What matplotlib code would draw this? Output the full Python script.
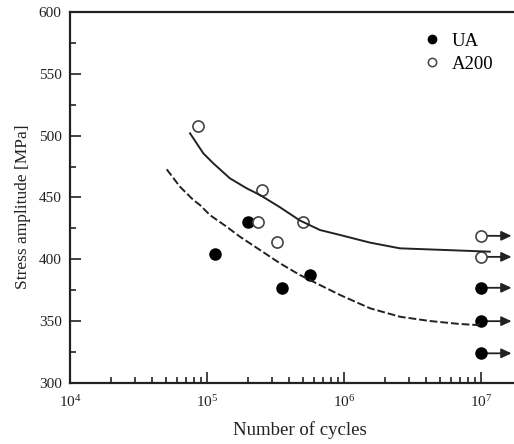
import numpy as np
import matplotlib
matplotlib.use("Agg")
import matplotlib.pyplot as plt
from matplotlib.ticker import LogLocator, FixedLocator, MultipleLocator, FuncFormatter

plt.rcParams['font.family'] = ['Liberation Serif', 'DejaVu Serif']
plt.rcParams['mathtext.fontset'] = 'custom'
plt.rcParams['mathtext.rm'] = 'Liberation Serif'
plt.rcParams['mathtext.it'] = 'Liberation Serif:italic'

# Fatigue test results (cycles to failure, stress amplitude in MPa)
ua_cycles = [1.14e5, 2.0e5, 3.5e5, 5.65e5]
ua_stress = [404, 430, 377, 387]
a200_cycles = [8.55e4, 2.35e5, 2.54e5, 3.23e5, 5.0e5]
a200_stress = [508, 430, 456, 414, 430]

# Run-outs (no failure at 10^7 cycles)
runout_cycles = 1.0e7
ua_runout_stress = [377, 350, 324]
a200_runout_stress = [419, 402]

# Fitted S-N curves
a200_fit_cycles = [7.52e4, 9.4e4, 1.11e5, 1.47e5, 1.95e5, 2.44e5, 3.41e5, 4.77e5,
                   6.68e5, 9.35e5, 1.55e6, 2.56e6, 5.31e6, 1.16e7]
a200_fit_stress = [501.9, 485.7, 477.7, 465.5, 457.4, 452.0, 442.1, 431.4,
                   423.7, 419.7, 413.5, 408.9, 407.6, 406.2]
ua_fit_cycles = [5.08e4, 6.35e4, 7.95e4, 8.89e4, 1.05e5, 1.39e5, 1.74e5, 2.44e5,
                 3.41e5, 4.77e5, 6.68e5, 9.35e5, 1.55e6, 2.56e6, 4.25e6, 7.03e6,
                 9.3e6, 1.02e7]
ua_fit_stress = [472.8, 458.7, 448.0, 443.9, 435.8, 426.4, 418.3, 407.5,
                 396.8, 387.3, 379.2, 371.2, 360.4, 353.6, 350.1, 347.7,
                 346.9, 348.0]

fig = plt.figure(figsize=(5.14, 4.44), dpi=100)
ax = fig.add_axes([70 / 514, 61 / 444, 460 / 514, 371 / 444])

ax.set_xscale('log')
ax.set_xlim(1e4, 10 ** (4 + 460 / 137))
ax.set_ylim(300, 600)

ink = '#222222'

ax.plot(a200_fit_cycles, a200_fit_stress, color=ink, lw=1.4, zorder=4)
ax.plot(ua_fit_cycles, ua_fit_stress, color=ink, lw=1.4, ls=(0, (4, 1.5)), zorder=4)

ax.plot(ua_cycles + [runout_cycles] * len(ua_runout_stress),
        ua_stress + ua_runout_stress, 'o', ms=8, mfc='black', mec='black',
        ls='none', zorder=3)
ax.plot(a200_cycles + [runout_cycles] * len(a200_runout_stress),
        a200_stress + a200_runout_stress, 'o', ms=8, mfc='white', mec='#444444',
        mew=1.2, ls='none', zorder=3)

# Run-out arrows
for s in ua_runout_stress + a200_runout_stress:
    ax.annotate('', xy=(runout_cycles, s), xytext=(22, 0), textcoords='offset points',
                arrowprops=dict(arrowstyle='<|-,head_length=0.6,head_width=0.28',
                                color=ink, lw=1.3, shrinkA=0, shrinkB=0),
                zorder=2)

# Legend
h1, = ax.plot([], [], 'o', ms=6, mfc='black', mec='black', ls='none')
h2, = ax.plot([], [], 'o', ms=6, mfc='white', mec='#444444', mew=1.1, ls='none')
ax.legend([h1, h2], ['UA', 'A200'], loc='upper left', bbox_to_anchor=(0.771, 0.944),
          frameon=False, fontsize=13.5, handlelength=0.8, handletextpad=0.65,
          labelspacing=0.32, borderaxespad=0, borderpad=0)

# Axes styling
for side in ['left', 'bottom', 'top']:
    ax.spines[side].set_linewidth(1.6)
    ax.spines[side].set_color(ink)
ax.spines['right'].set_visible(False)

ax.xaxis.set_major_locator(FixedLocator([1e4, 1e5, 1e6, 1e7]))
ax.xaxis.set_minor_locator(LogLocator(base=10, subs=np.arange(2, 10)))
ax.xaxis.set_major_formatter(FuncFormatter(lambda v, p: r'$\mathregular{10^{%d}}$' % round(np.log10(v))))
ax.yaxis.set_major_locator(MultipleLocator(50))
ax.yaxis.set_minor_locator(MultipleLocator(25))

ax.tick_params(which='both', direction='in', top=False, right=False, colors=ink,
               labelsize=11, width=1.2)
ax.tick_params(which='major', length=8, pad=6)
ax.tick_params(which='minor', length=4.5)
ax.tick_params(axis='x', which='major', pad=8)

ax.set_xlabel('Number of cycles', fontsize=13.5, color=ink, labelpad=8)
ax.set_ylabel('Stress amplitude [MPa]', fontsize=12.5, color=ink)
ax.yaxis.set_label_coords(-0.085, 0.474)

fig.savefig('out.png', dpi=100)
